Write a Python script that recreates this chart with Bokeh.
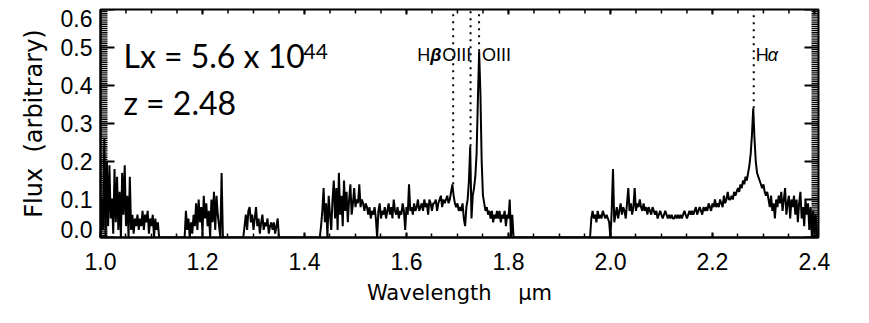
import numpy as np
from bokeh.plotting import figure
from bokeh.models import Label, Range1d, FixedTicker, PrintfTickFormatter, CustomJSTickFormatter
from bokeh.embed import file_html
from bokeh.resources import INLINE

# ---------------- data ----------------
x_ticks = [1.0, 1.2, 1.4, 1.6, 1.8, 2.0, 2.2, 2.4]
y_ticks = [0.0, 0.1, 0.2, 0.3, 0.4, 0.5, 0.6]
# where the y tick labels sit (the two end labels are pulled inside the frame height)
y_label_pos = [0.021, 0.1, 0.2, 0.3, 0.4, 0.5, 0.576]

# spectrum segments: (start, end) wavelength in micron, flux values on a regular grid
seg_a = (1.000, 1.115)
flux_a = [0.00, 0.10, 0.02, 0.26, 0.00, 0.20, 0.03, 0.19, 0.05, 0.10,
          0.01, 0.18, 0.04, 0.16, 0.02, 0.12, 0.00, 0.17, 0.06, 0.19,
          0.03, 0.11, 0.00, 0.16, 0.02, 0.06, 0.01, 0.05, 0.03, 0.06,
          0.02, 0.05, 0.03, 0.07, 0.02, 0.06, 0.04, 0.07, 0.01, 0.05,
          0.03, 0.06, 0.00, 0.05, 0.02, 0.04, 0.00]

seg_b = (1.165, 1.240)
flux_b = [0.00, 0.07, 0.02, 0.05, 0.00, 0.04, 0.01, 0.06, 0.03, 0.09,
          0.02, 0.10, 0.04, 0.08, 0.01, 0.11, 0.05, 0.09, 0.03, 0.07,
          0.00, 0.10, 0.04, 0.12, 0.02, 0.11, 0.06, 0.03, 0.00, 0.17,
          0.00]

seg_c = (1.280, 1.350)
flux_c = [0.00, 0.03, 0.06, 0.02, 0.07, 0.08, 0.04, 0.06, 0.02, 0.05,
          0.08, 0.03, 0.05, 0.01, 0.04, 0.06, 0.02, 0.04, 0.03, 0.05,
          0.01, 0.03, 0.04, 0.02, 0.04, 0.01, 0.03, 0.05, 0.00]

seg_d = (1.430, 1.810)
flux_d = [0.00, 0.03, 0.07, 0.13, 0.04, 0.09, 0.00, 0.11, 0.06, 0.02,
          0.10, 0.15, 0.05, 0.13, 0.02, 0.17, 0.06, 0.11, 0.03, 0.15,
          0.07, 0.12, 0.04, 0.10, 0.14, 0.06, 0.09, 0.13, 0.08, 0.10,
          0.09, 0.14, 0.08, 0.10, 0.09, 0.07, 0.09, 0.08, 0.06, 0.08,
          0.05, 0.07, 0.06, 0.08, 0.05, 0.00, 0.07, 0.09, 0.05, 0.07,
          0.06, 0.08, 0.05, 0.07, 0.09, 0.06, 0.08, 0.05, 0.10, 0.07,
          0.06, 0.08, 0.05, 0.07, 0.06, 0.09, 0.07, 0.02, 0.08, 0.06,
          0.14, 0.07, 0.08, 0.06, 0.09, 0.07, 0.08, 0.10, 0.07, 0.08,
          0.09, 0.07, 0.10, 0.08, 0.09, 0.06, 0.10, 0.09, 0.07, 0.09,
          0.09, 0.10, 0.07, 0.09, 0.10, 0.11, 0.08, 0.10, 0.09, 0.10,
          0.11, 0.09, 0.10, 0.12, 0.14, 0.11, 0.09, 0.08, 0.09, 0.07,
          0.08, 0.07, 0.09, 0.05, 0.03, 0.08, 0.10, 0.15, 0.24, 0.05,
          0.11, 0.13, 0.16, 0.22, 0.36, 0.49, 0.38, 0.20, 0.11, 0.09,
          0.07, 0.08, 0.06, 0.07, 0.05, 0.07, 0.04, 0.06, 0.05, 0.07,
          0.05, 0.07, 0.04, 0.06, 0.05, 0.07, 0.03, 0.06, 0.05, 0.10,
          0.00, 0.06, 0.00]

seg_e = (1.960, 2.405)
flux_e = [0.00, 0.05, 0.07, 0.05, 0.06, 0.04, 0.07, 0.05, 0.06, 0.05,
          0.07, 0.06, 0.05, 0.06, 0.05, 0.04, 0.00, 0.07, 0.18, 0.04,
          0.06, 0.08, 0.05, 0.07, 0.09, 0.06, 0.08, 0.07, 0.05, 0.09,
          0.13, 0.07, 0.09, 0.06, 0.08, 0.13, 0.07, 0.09, 0.08, 0.10,
          0.08, 0.07, 0.09, 0.07, 0.08, 0.06, 0.08, 0.07, 0.06, 0.08,
          0.07, 0.06, 0.07, 0.05, 0.06, 0.07, 0.06, 0.05, 0.06, 0.07,
          0.06, 0.05, 0.06, 0.05, 0.06, 0.05, 0.05, 0.06, 0.05, 0.06,
          0.05, 0.06, 0.05, 0.06, 0.07, 0.06, 0.05, 0.06, 0.07, 0.06,
          0.07, 0.06, 0.07, 0.08, 0.06, 0.07, 0.08, 0.07, 0.06, 0.08,
          0.07, 0.08, 0.07, 0.09, 0.08, 0.07, 0.09, 0.08, 0.10, 0.08,
          0.09, 0.08, 0.10, 0.09, 0.08, 0.11, 0.09, 0.10, 0.12, 0.10,
          0.10, 0.11, 0.10, 0.12, 0.11, 0.12, 0.13, 0.12, 0.14, 0.13,
          0.15, 0.14, 0.16, 0.15, 0.17, 0.19, 0.22, 0.27, 0.34, 0.26,
          0.20, 0.17, 0.16, 0.15, 0.14, 0.13, 0.14, 0.12, 0.11, 0.12,
          0.10, 0.08, 0.11, 0.07, 0.09, 0.05, 0.10, 0.08, 0.11, 0.09,
          0.12, 0.07, 0.10, 0.13, 0.06, 0.09, 0.11, 0.05, 0.10, 0.08,
          0.11, 0.06, 0.10, 0.04, 0.09, 0.12, 0.05, 0.08, 0.03, 0.10,
          0.06, 0.09, 0.02, 0.08, 0.00, 0.07, 0.01, 0.06, 0.00]

# emission lines (redshifted, z = 2.48)
line_names = ["Hβ", "OIII", "OIII", "Hα"]
line_wave = [1.6916, 1.7257, 1.7424, 2.2810]
line_peak = [0.14, 0.24, 0.49, 0.34]

# ---------------- build spectrum ----------------
segments = [(seg_a, flux_a), (seg_b, flux_b), (seg_c, flux_c), (seg_d, flux_d), (seg_e, flux_e)]
wave = [float(v) for v in np.concatenate([np.linspace(s[0], s[1], len(f)) for s, f in segments])]
flux = [float(v) for f in (flux_a, flux_b, flux_c, flux_d, flux_e) for v in f]

X0, X1 = 1.0, 2.408
Y0, Y1 = 0.0, 0.6
W, H = 869, 323
BL, BR, BT, BB = 100, 51, 9, 86
frame_w, frame_h = W - BL - BR, H - BT - BB
px_x = (X1 - X0) / frame_w    # data units per screen pixel
px_y = (Y1 - Y0) / frame_h

# ---------------- figure ----------------
p = figure(width=W, height=H, x_range=Range1d(X0, X1), y_range=Range1d(Y0, Y1),
           output_backend="svg", toolbar_location=None,
           min_border_left=BL, min_border_right=BR, min_border_top=BT, min_border_bottom=BB)
p.outline_line_color = "black"
p.outline_line_width = 2
p.xgrid.grid_line_color = None
p.ygrid.grid_line_color = None

x_minor = [round(1.0 + 0.05 * i, 3) for i in range(29)]
y_minor = [round(0.005 * i, 4) for i in range(121)]

xa = p.xaxis[0]
xa.ticker = FixedTicker(ticks=x_ticks, minor_ticks=x_minor)
xa.formatter = PrintfTickFormatter(format="%.1f")
xa.axis_line_color = "black"
xa.axis_line_width = 2
xa.major_tick_line_color = "black"
xa.major_tick_line_width = 2
xa.minor_tick_line_color = "black"
xa.minor_tick_line_width = 1.5
xa.major_tick_in = 5
xa.major_tick_out = 0
xa.minor_tick_in = 4
xa.minor_tick_out = 0
xa.major_label_text_font = "Liberation Sans"
xa.major_label_text_font_size = "23px"
xa.major_label_text_color = "black"
xa.major_label_standoff = 15
xa.axis_label = "Wavelength\u00a0\u00a0\u00a0\u00a0μm"
xa.axis_label_text_font = "DejaVu Sans"
xa.axis_label_text_font_size = "21px"
xa.axis_label_text_font_style = "normal"
xa.axis_label_text_color = "black"
xa.axis_label_standoff = 8

ya = p.yaxis[0]
ya.ticker = FixedTicker(ticks=y_label_pos, minor_ticks=[])
ya.formatter = CustomJSTickFormatter(code="return (Math.round(tick * 10) / 10).toFixed(1);")
ya.axis_line_color = "black"
ya.axis_line_width = 2
ya.major_tick_in = 0
ya.major_tick_out = 0
ya.minor_tick_in = 0
ya.minor_tick_out = 0
ya.major_label_text_font = "Liberation Sans"
ya.major_label_text_font_size = "23px"
ya.major_label_text_color = "black"
ya.major_label_standoff = 8
ya.axis_label = "Flux\u00a0\u00a0(arbitrary)"
ya.axis_label_text_font = "DejaVu Sans"
ya.axis_label_text_font_size = "24px"
ya.axis_label_text_font_style = "normal"
ya.axis_label_text_color = "black"
ya.axis_label_standoff = 10

# spectrum first
p.line(wave, flux, line_color="black", line_width=2)

# dotted line markers
p.segment(x0=line_wave, y0=line_peak, x1=line_wave, y1=[Y1] * len(line_wave),
          line_color="black", line_width=2, line_dash="2 5")

# inward tick marks, drawn after the data, one renderer per tick
def add_hticks(edge, positions, length_px, direction, width):
    for v in positions:
        p.segment(x0=[edge], y0=[v], x1=[edge + direction * length_px * px_x], y1=[v],
                  line_color="black", line_width=width)

def add_vticks(edge, positions, length_px, direction, width):
    for v in positions:
        p.segment(x0=[v], y0=[edge], x1=[v], y1=[edge + direction * length_px * px_y],
                  line_color="black", line_width=width)

add_hticks(X0, y_minor, 7, 1, 1.2)
add_hticks(X0, y_ticks, 14, 1, 2)
add_hticks(X1, y_minor, 7, -1, 1.2)
add_hticks(X1, y_ticks, 14, -1, 2)
add_vticks(Y1, x_minor, 4, -1, 1.5)
add_vticks(Y1, x_ticks, 5, -1, 2)

# line labels
lab_font = "Liberation Sans Narrow, Liberation Sans, sans-serif"
lab_y = 0.479
lab = dict(text_font=lab_font, text_font_size="18px", text_baseline="alphabetic", text_color="black")
p.add_layout(Label(x=line_wave[0], y=lab_y, x_offset=-36, text="H", **lab))
p.add_layout(Label(x=line_wave[0], y=lab_y, x_offset=-23, text="β", text_font_style="bold italic", **lab))
p.add_layout(Label(x=line_wave[0], y=lab_y, x_offset=-11, text=line_names[1], **lab))
p.add_layout(Label(x=line_wave[2], y=lab_y, x_offset=3, text=line_names[2], **lab))
p.add_layout(Label(x=line_wave[3], y=lab_y, x_offset=2, text="H", **lab))
p.add_layout(Label(x=line_wave[3], y=lab_y, x_offset=14, text="α", text_font_style="italic", **lab))

# luminosity / redshift annotation
big = dict(text_font="Lato", text_baseline="alphabetic", text_color="black")
p.add_layout(Label(x=1.045, y=0.479, text="Lx = 5.6 x 10", text_font_size="32px", **big))
p.add_layout(Label(x=1.398, y=0.489, text="44", text_font_size="21px", **big))
p.add_layout(Label(x=1.045, y=0.355, text="z = 2.48", text_font_size="32px", **big))

open("out.html", "w").write(file_html(p, INLINE))
